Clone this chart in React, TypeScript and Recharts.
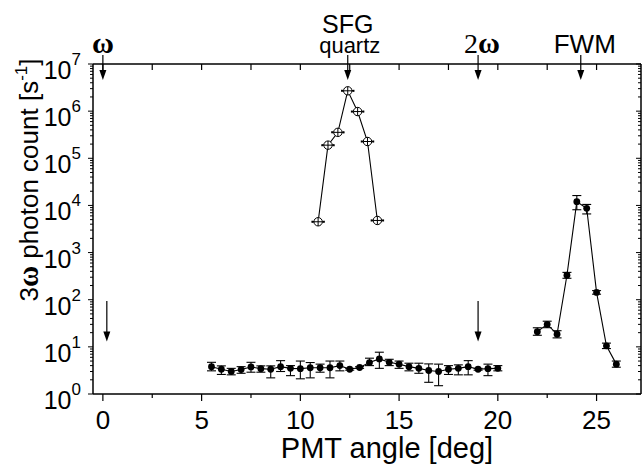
import React from "react";
import { ScatterChart, Scatter, XAxis, YAxis, ErrorBar, ReferenceLine, ReferenceDot } from "recharts";

const SANS = "'Liberation Sans', Arial, Helvetica, sans-serif";
const SERIF = "'Liberation Serif', 'Times New Roman', serif";

// background level, 5.5..20 deg
const baseX = [5.5, 6, 6.5, 7, 7.5, 8, 8.5, 9, 9.5, 10, 10.5, 11, 11.5, 12, 12.5, 13, 13.5, 14, 14.5, 15, 15.5, 16, 16.5, 17, 17.5, 18, 18.5, 19, 19.5, 20];
const baseY = [3.8, 3.35, 3.0, 3.3, 3.75, 3.45, 3.35, 3.8, 3.5, 3.45, 3.6, 3.6, 3.6, 4.0, 3.35, 3.65, 4.65, 5.55, 4.7, 4.3, 3.8, 3.5, 3.15, 3.0, 3.35, 3.5, 3.8, 3.35, 3.45, 3.5];
const baseLo = [3.1, 2.6, 2.55, 2.75, 2.9, 2.9, 2.2, 3.0, 2.45, 2.1, 2.2, 2.9, 2.2, 3.1, 3.2, 3.5, 4.0, 3.5, 4.0, 3.5, 3.1, 2.75, 1.77, 1.5, 2.6, 2.55, 2.55, 3.2, 2.45, 3.1];
const baseHi = [4.7, 3.95, 3.5, 3.8, 4.7, 3.95, 3.95, 5.1, 4.0, 5.0, 4.65, 4.3, 5.0, 5.0, 3.5, 3.8, 5.75, 7.7, 5.45, 5.0, 4.5, 4.5, 4.35, 4.3, 4.0, 4.15, 5.1, 3.5, 4.3, 4.0];

// SFG from quartz
const sfgX = [10.9, 11.4, 11.9, 12.4, 12.9, 13.4, 13.9];
const sfgY = [4500, 190000, 355000, 2700000, 980000, 227000, 4800];
const sfgXErr = 0.3;

// FWM peak
const fwmX = [22, 22.5, 23, 23.5, 24, 24.5, 25, 25.5, 26];
const fwmY = [21, 30, 18.6, 330, 12000, 8700, 143, 10.5, 4.3];
const fwmLo = [17.6, 25.5, 15.5, 285, 8100, 6600, 131, 9.2, 3.7];
const fwmHi = [25.4, 35, 22, 380, 16200, 10500, 156, 12, 5.0];

const xTicks = [0, 2.5, 5, 7.5, 10, 12.5, 15, 17.5, 20, 22.5, 25];
const yTicks: number[] = [];
for (let k = 0; k < 7; k++) for (let m = 1; m < 10; m++) yTicks.push(m * Math.pow(10, k));
yTicks.push(1e7);

// annotations
const topArrowX = [0, 12.4, 19, 24.2];
const lowArrowX = [0.2, 19];
const topArrowFrom = 1.55e7;
const topArrowTo = 4.6e6;
const lowArrowFrom = 94;
const lowArrowTo = 13;

const baseData = baseX.map((x, i) => ({ x, y: baseY[i], err: [baseY[i] - baseLo[i], baseHi[i] - baseY[i]] }));
const sfgData = sfgX.map((x, i) => ({ x, y: sfgY[i], xerr: sfgXErr }));
const fwmData = fwmX.map((x, i) => ({ x, y: fwmY[i], err: [fwmY[i] - fwmLo[i], fwmHi[i] - fwmY[i]] }));

const isMajor = (v: number) => {
  const e = Math.round(Math.log10(v));
  return Math.abs(v - Math.pow(10, e)) < 1e-6 * v;
};

const LeftTick = (props: any) => {
  const { x, y, payload } = props;
  const v = payload.value;
  const major = isMajor(v);
  return (
    <g>
      <line x1={x - (major ? 5 : 3)} x2={x} y1={y} y2={y} stroke="#000" strokeWidth={1} />
      {major && (
        <text x={x - 12} y={y + 15} textAnchor="end" fontSize={25} fontFamily={SANS} fill="#000">
          10<tspan dy={-14} fontSize={17}>{Math.round(Math.log10(v))}</tspan>
        </text>
      )}
    </g>
  );
};

const RightTick = (props: any) => {
  const { x, y, payload } = props;
  const major = isMajor(payload.value);
  return <line x1={x - (major ? 5 : 3)} x2={x} y1={y} y2={y} stroke="#000" strokeWidth={1} />;
};

const BottomTick = (props: any) => {
  const { x, y, payload } = props;
  const v = payload.value;
  const major = v % 5 === 0;
  return (
    <g>
      <line x1={x} x2={x} y1={y} y2={y + (major ? 7 : 4)} stroke="#000" strokeWidth={1.2} />
      {major && (
        <text x={x} y={y + 35} textAnchor="middle" fontSize={26} fontFamily={SANS} fill="#000">
          {v}
        </text>
      )}
    </g>
  );
};

const TopTick = (props: any) => {
  const { x, y } = props;
  return <line x1={x} x2={x} y1={y} y2={y + 6} stroke="#000" strokeWidth={1.2} />;
};

const XTitle = (props: any) => {
  const { viewBox } = props;
  return (
    <text x={viewBox.x + viewBox.width / 2 + 20} y={viewBox.y + 64} textAnchor="middle" fontSize={29} fontFamily={SANS} fill="#000">
      PMT angle [deg]
    </text>
  );
};

const YTitle = (props: any) => {
  const { viewBox } = props;
  const cx = 38;
  const cy = viewBox.y + 116;
  return (
    <text x={cx} y={cy} transform={`rotate(-90 ${cx} ${cy})`} textAnchor="middle" fontSize={26} fontFamily={SANS} fill="#000">
      3<tspan fontFamily={SERIF} fontWeight="bold" fontSize={29}>ω</tspan> photon count [s<tspan dy={-11} fontSize={17}>-1</tspan><tspan dy={11}>]</tspan>
    </text>
  );
};

const Arrow = (props: any) => {
  const { x1, y1, x2, y2 } = props;
  const head = 10;
  const half = 3.5;
  return (
    <g>
      <line x1={x1} y1={y1} x2={x2} y2={y2 - head + 1} stroke="#000" strokeWidth={1.2} />
      <polygon points={`${x2 - half},${y2 - head} ${x2 + half},${y2 - head} ${x2},${y2}`} fill="#000" />
    </g>
  );
};

const Dot = (props: any) => <circle cx={props.cx} cy={props.cy} r={3.4} fill="#000" />;

const CrossCircle = (props: any) => {
  const { cx, cy } = props;
  const r = 4.2;
  return (
    <g>
      <circle cx={cx} cy={cy} r={r} fill="#fff" stroke="#000" strokeWidth={1} />
      <line x1={cx - r} x2={cx + r} y1={cy} y2={cy} stroke="#000" strokeWidth={1} />
      <line x1={cx} x2={cx} y1={cy - r} y2={cy + r} stroke="#000" strokeWidth={1} />
    </g>
  );
};

const topLabel = (kind: string) => (props: any) => {
  const { cx, cy } = props;
  if (kind === "w")
    return (
      <text x={cx} y={cy - 11} textAnchor="middle" fontSize={30} fontFamily={SERIF} fontWeight="bold" fill="#000">ω</text>
    );
  if (kind === "2w")
    return (
      <text x={cx + 4} y={cy - 11} textAnchor="middle" fontSize={28} fontFamily={SERIF} fill="#000">
        2<tspan fontWeight="bold" fontSize={30}>ω</tspan>
      </text>
    );
  if (kind === "sfg")
    return (
      <g>
        <text x={cx} y={cy - 31} textAnchor="middle" fontSize={25} fontFamily={SANS} fill="#000">SFG</text>
        <text x={cx + 2} y={cy - 11} textAnchor="middle" fontSize={22} fontFamily={SANS} fill="#000">quartz</text>
      </g>
    );
  return (
    <text x={cx + 4} y={cy - 11} textAnchor="middle" fontSize={26} fontFamily={SANS} fill="#000">FWM</text>
  );
};

const labelAt = [
  { x: 0, kind: "w" },
  { x: 12.4, kind: "sfg" },
  { x: 19, kind: "2w" },
  { x: 24.2, kind: "fwm" },
];

export default function App() {
  return (
    <div style={{ position: "absolute", left: 0, top: 0, fontFamily: SANS }}>
      <ScatterChart width={643} height={466} margin={{ top: 63, right: 1, bottom: 0, left: 0 }}>
        <XAxis
          type="number"
          dataKey="x"
          domain={[-0.5, 27.25]}
          ticks={xTicks}
          interval={0}
          allowDataOverflow
          height={72}
          axisLine={{ stroke: "#000", strokeWidth: 1.5 }}
          tickLine={false}
          tickSize={0}
          tickMargin={0}
          tick={<BottomTick />}
          label={<XTitle />}
        />
        <XAxis
          xAxisId="top"
          orientation="top"
          type="number"
          dataKey="x"
          domain={[-0.5, 27.25]}
          ticks={xTicks}
          interval={0}
          allowDataOverflow
          height={1}
          axisLine={{ stroke: "#000", strokeWidth: 1.5 }}
          tickLine={false}
          tickSize={0}
          tickMargin={0}
          tick={<TopTick />}
        />
        <YAxis
          type="number"
          dataKey="y"
          scale="log"
          domain={[1, 1e7]}
          ticks={yTicks}
          interval={0}
          allowDataOverflow
          width={93}
          axisLine={{ stroke: "#000", strokeWidth: 1.5 }}
          tickLine={false}
          tickSize={0}
          tickMargin={0}
          tick={<LeftTick />}
          label={<YTitle />}
        />
        <YAxis
          yAxisId="right"
          orientation="right"
          type="number"
          dataKey="y"
          scale="log"
          domain={[1, 1e7]}
          ticks={yTicks}
          interval={0}
          allowDataOverflow
          width={1}
          axisLine={{ stroke: "#000", strokeWidth: 1.5 }}
          tickLine={false}
          tickSize={0}
          tickMargin={0}
          tick={<RightTick />}
        />

        <Scatter data={baseData} isAnimationActive={false} line={{ stroke: "#000", strokeWidth: 1.1 }} lineType="joint" shape={<Dot />}>
          <ErrorBar dataKey="err" direction="y" width={4.5} stroke="#000" strokeWidth={1.1} isAnimationActive={false} />
        </Scatter>
        <Scatter data={sfgData} isAnimationActive={false} line={{ stroke: "#000", strokeWidth: 1.1 }} lineType="joint" shape={<CrossCircle />}>
          <ErrorBar dataKey="xerr" direction="x" width={1} stroke="#000" strokeWidth={1.6} isAnimationActive={false} />
        </Scatter>
        <Scatter data={fwmData} isAnimationActive={false} line={{ stroke: "#000", strokeWidth: 1.1 }} lineType="joint" shape={<Dot />}>
          <ErrorBar dataKey="err" direction="y" width={4.5} stroke="#000" strokeWidth={1.1} isAnimationActive={false} />
        </Scatter>

        {topArrowX.map((x) => (
          <ReferenceLine
            key={"ta" + x}
            segment={[{ x, y: topArrowFrom }, { x, y: topArrowTo }]}
            ifOverflow="visible"
            shape={(p: any) => <Arrow {...p} />}
          />
        ))}
        {lowArrowX.map((x) => (
          <ReferenceLine
            key={"la" + x}
            segment={[{ x, y: lowArrowFrom }, { x, y: lowArrowTo }]}
            ifOverflow="visible"
            shape={(p: any) => <Arrow {...p} />}
          />
        ))}
        {labelAt.map((l) => (
          <ReferenceDot key={l.kind} x={l.x} y={1e7} r={0} ifOverflow="visible" shape={topLabel(l.kind)} />
        ))}
      </ScatterChart>
    </div>
  );
}
